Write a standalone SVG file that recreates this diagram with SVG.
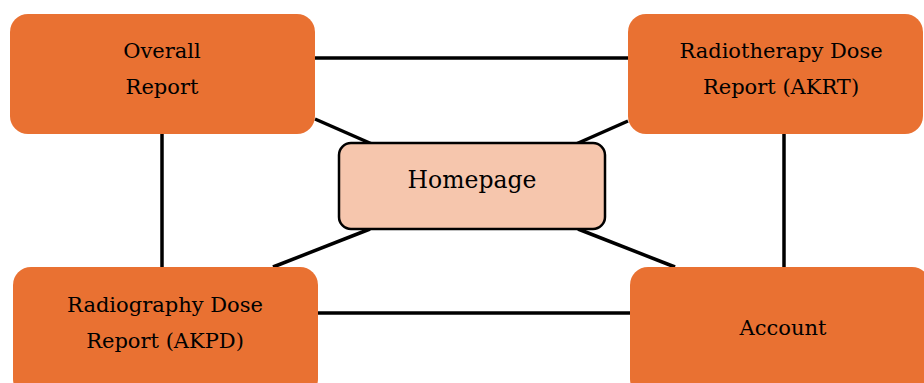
<svg xmlns="http://www.w3.org/2000/svg" width="924" height="383" viewBox="0 0 924 383">
<style>
.box{fill:#E97132;}
.home{fill:#F6C6AD;stroke:#000;stroke-width:2.5;}
.lbl{font-family:"DejaVu Serif","Liberation Serif",serif;font-size:21px;fill:#000;text-anchor:middle;}
.big{font-size:23.5px;}
.conn line{stroke:#000;stroke-width:3.5;}
</style>
<rect width="924" height="383" fill="#fff"/>
<g class="conn" id="connectors">
<line x1="315" y1="58" x2="628" y2="58"/>
<line x1="162" y1="134" x2="162" y2="267"/>
<line x1="784" y1="134" x2="784" y2="267"/>
<line x1="318" y1="313" x2="630" y2="313"/>
<line x1="315" y1="119" x2="372" y2="144"/>
<line x1="628" y1="121" x2="576" y2="144"/>
<line x1="370" y1="229" x2="273" y2="267"/>
<line x1="578" y1="229" x2="675" y2="267"/>
</g>
<g id="overall">
<rect class="box" x="10" y="14" width="305" height="120" rx="18"/>
<text class="lbl" x="162" y="58">Overall</text>
<text class="lbl" x="162" y="94">Report</text>
</g>
<g id="akrt">
<rect class="box" x="628" y="14" width="295" height="120" rx="18"/>
<text class="lbl" x="781" y="58">Radiotherapy Dose</text>
<text class="lbl" x="781" y="94">Report (AKRT)</text>
</g>
<g id="homepage">
<rect class="home" x="339" y="143" width="266" height="86" rx="12"/>
<text class="lbl big" x="472" y="188">Homepage</text>
</g>
<g id="akpd">
<rect class="box" x="13" y="267" width="305" height="130" rx="18"/>
<text class="lbl" x="165" y="312">Radiography Dose</text>
<text class="lbl" x="165" y="348">Report (AKPD)</text>
</g>
<g id="account">
<rect class="box" x="630" y="267" width="300" height="130" rx="18"/>
<text class="lbl" x="783" y="335">Account</text>
</g>
</svg>
